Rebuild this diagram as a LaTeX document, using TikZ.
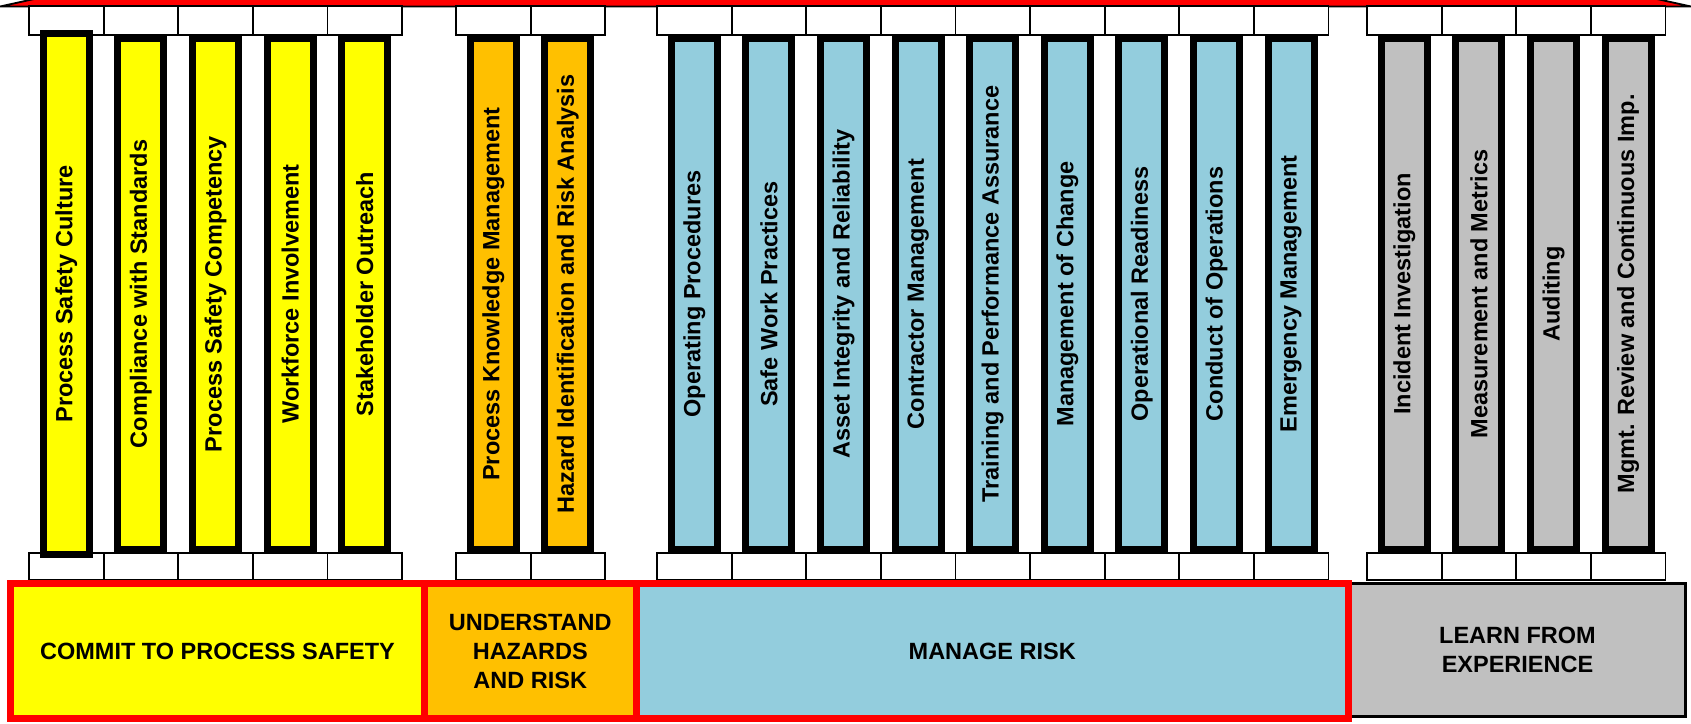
\documentclass[tikz,border=0pt]{standalone}
\usepackage{fontspec}
\setmainfont{Liberation Sans}
\usepackage{tikz}
\definecolor{commityellow}{HTML}{FFFF00}
\definecolor{hazardorange}{HTML}{FFC000}
\definecolor{riskblue}{HTML}{93CDDD}
\definecolor{learngray}{HTML}{C0C0C0}
\tikzset{
	pillartext/.style={rotate=90, inner sep=0pt, font=\bfseries\fontsize{23.5}{28}\selectfont},
	basebox/.style={line width=7pt, align=center, inner sep=0pt, font=\bfseries\fontsize{23.5}{29}\selectfont}
}
\def\pillar[#1](#2:#3)#4#5{
	\draw[fill=white, line width=1.8pt] (#2, 6) rectangle (#2+74.6, 35);
	\draw[fill=white, line width=1.8pt] (#2, 553) rectangle (#2+74.6, 580);
	\draw[fill=#1, line width=7pt] (#2+14.3, 38.5-#3) rectangle (#2+60.3, 549.5+#3);
	\node[pillartext] (#4) at (#2+37.3, 294) {#5};
}

\begin{document}
\begin{tikzpicture}[x=1pt, y=-1pt]
			\useasboundingbox (0, 0) rectangle (1691, 723);
			%%%%% ROOF %%%%%
			\begin{scope}
				\clip (0, 0) rectangle (1691, 723);
				\draw[fill=red, line width=1.8pt] (0, 6.5) -- (66, -8) -- (1625, -8) -- (1691, 6.5) -- cycle;
			\end{scope}
			
			%%%%% COMMIT %%%%%
			\pillar[commityellow](29:5){culture}{Process Safety Culture}
			\pillar[commityellow](103.6:0){compliance}{Compliance with Standards}
			\pillar[commityellow](178.2:0){competency}{Process Safety Competency}
			\pillar[commityellow](252.8:0){workforce}{Workforce Involvement}
			\pillar[commityellow](327.4:0){outreach}{Stakeholder Outreach}
			
			%%%%% UNDERSTAND %%%%%
			\pillar[hazardorange](456:0){knowledge}{Process Knowledge Management}
			\pillar[hazardorange](530.6:0){hira}{Hazard Identification and Risk Analysis}
			
			%%%%% MANAGE %%%%%
			\pillar[riskblue](657:0){procedures}{Operating Procedures}
			\pillar[riskblue](731.6:0){practices}{Safe Work Practices}
			\pillar[riskblue](806.2:0){integrity}{Asset Integrity and Reliability}
			\pillar[riskblue](880.8:0){contractor}{Contractor Management}
			\pillar[riskblue](955.4:0){training}{Training and Performance Assurance}
			\pillar[riskblue](1030:0){change}{Management of Change}
			\pillar[riskblue](1104.6:0){readiness}{Operational Readiness}
			\pillar[riskblue](1179.2:0){conduct}{Conduct of Operations}
			\pillar[riskblue](1253.8:0){emergency}{Emergency Management}
			
			%%%%% LEARN %%%%%
			\pillar[learngray](1367:0){incident}{Incident Investigation}
			\pillar[learngray](1441.6:0){metrics}{Measurement and Metrics}
			\pillar[learngray](1516.2:0){auditing}{Auditing}
			\pillar[learngray](1590.8:0){review}{Mgmt. Review and Continuous Imp.}
			
			%%%%% BASES %%%%%
			\node[basebox, draw=black, line width=2.5pt, fill=learngray, minimum width=336pt, minimum height=133pt] (learn) at (1517.5, 650) {LEARN FROM\\EXPERIENCE};
			\node[basebox, draw=red, fill=commityellow, minimum width=414pt, minimum height=135pt] (commit) at (217.5, 651) {COMMIT TO PROCESS SAFETY};
			\node[basebox, draw=red, fill=hazardorange, minimum width=211.5pt, minimum height=135pt] (understand) at (530.25, 651) {UNDERSTAND\\HAZARDS\\AND RISK};
			\node[basebox, draw=red, fill=riskblue, minimum width=712.5pt, minimum height=135pt] (manage) at (992.25, 651) {MANAGE RISK};
		\end{tikzpicture}
\end{document}
